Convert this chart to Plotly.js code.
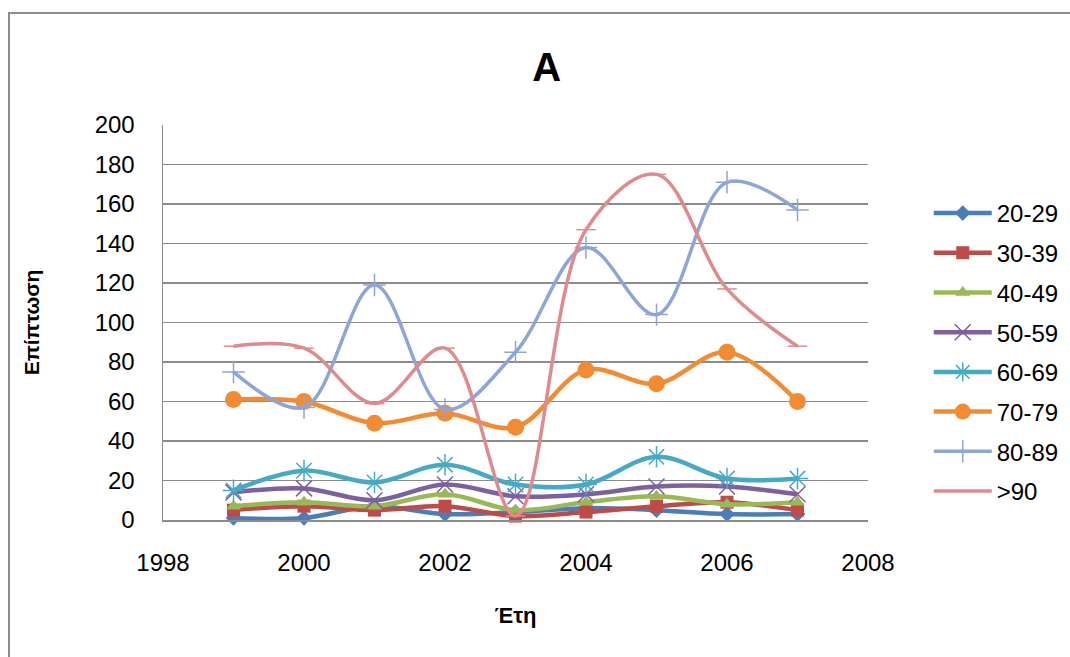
<!DOCTYPE html>
<html>
<head>
<meta charset="utf-8">
<script src="https://cdn.plot.ly/plotly-3.0.1.min.js"></script>
<style>
  html, body { margin: 0; padding: 0; background: #ffffff; }
  #frame { position: absolute; left: 8px; top: 12px; width: 1080px; height: 660px;
           border-left: 2px solid #8c8c8c; border-top: 2px solid #8c8c8c; }
  #chart { position: absolute; left: 0; top: 0; width: 1070px; height: 657px; }
</style>
</head>
<body>
<div id="frame"></div>
<div id="chart"></div>
<script>
const years = [1999, 2000, 2001, 2002, 2003, 2004, 2005, 2006, 2007];
const seriesNames = ["20-29", "30-39", "40-49", "50-59", "60-69", "70-79", "80-89", ">90"];
const s20_29 = [1, 1, 7, 3, 4, 6, 5, 3, 3];
const s30_39 = [5, 7, 5, 7, 2, 4, 7, 9, 5];
const s40_49 = [7, 9, 7, 13, 5, 9, 12, 8, 9];
const s50_59 = [14, 16, 10, 18, 12, 13, 17, 17, 13];
const s60_69 = [15, 25, 19, 28, 18, 18, 32, 21, 21];
const s70_79 = [61, 60, 49, 54, 47, 76, 69, 85, 60];
const s80_89 = [75, 57, 119, 56, 85, 138, 104, 171, 157];
const s90 = [88, 87, 59, 87, 2, 147, 175, 117, 88];

const allSeries = [s20_29, s30_39, s40_49, s50_59, s60_69, s70_79, s80_89, s90];
const colors = ["#4A7EBB", "#BE4B48", "#98B954", "#7D60A0", "#46AAC5", "#F38B32", "#8EA5D5", "#DE8B90"];
const symbols = ["diamond", "square", "triangle-up", "x-thin-open", "asterisk-open", "circle", "cross-thin-open", "line-ew-open"];
const msizes = [12, 13, 13, 16, 18, 17, 16, 14];
const lwidths = [4.5, 4.5, 4.5, 4.5, 4.5, 4.5, 3.5, 3.5];

const traces = allSeries.map((vals, i) => ({
  x: years,
  y: vals,
  name: seriesNames[i],
  legendgroup: "g" + i,
  type: "scatter",
  mode: "lines+markers",
  line: { color: colors[i], width: lwidths[i], shape: "spline", smoothing: 1 },
  marker: { symbol: symbols[i], size: msizes[i], color: colors[i],
            line: { color: colors[i], width: (i === 3 || i === 4 || i === 6 || i === 7) ? 1.5 : 0 } },
  cliponaxis: false
}));

const layout = {
  width: 1070, height: 657,
  paper_bgcolor: "rgba(0,0,0,0)",
  plot_bgcolor: "#ffffff",
  margin: { l: 163, r: 202, t: 125, b: 137 },
  font: { family: "Liberation Sans, Arial, sans-serif", size: 24, color: "#000000" },
  title: { text: "<b>A</b>", x: 0.511, xanchor: "center", y: 0.898, yanchor: "middle",
           font: { size: 40, family: "Liberation Sans Narrow, Liberation Sans, sans-serif", color: "#000" } },
  xaxis: {
    range: [1998, 2008], dtick: 2, tick0: 1998,
    showgrid: false, zeroline: false,
    showline: true, linecolor: "#8c8c8c", linewidth: 1.5,
    ticks: "", tickfont: { size: 24 }, ticklabelstandoff: 21,
    title: { text: "<b>Έτη</b>", font: { size: 22 }, standoff: 32 }
  },
  yaxis: {
    range: [0, 200], dtick: 20, tick0: 0,
    showgrid: true, gridcolor: "#8c8c8c", gridwidth: 1.5,
    zeroline: false, showline: true, linecolor: "#8c8c8c", linewidth: 1.5,
    ticks: "", tickfont: { size: 24 }, ticklabelstandoff: 22,
    title: { text: "<b>Επίπτωση</b>", font: { size: 21 }, standoff: 49 }
  },
  showlegend: true,
  legend: {
    xref: "container", yref: "container",
    x: 0.868, y: 1 - 191 / 657, xanchor: "left", yanchor: "top",
    traceorder: "grouped", tracegroupgap: 5.5,
    itemwidth: 58,
    font: { size: 24 },
    bgcolor: "rgba(0,0,0,0)"
  }
};

Plotly.newPlot("chart", traces, layout, { displayModeBar: false, staticPlot: true });
</script>
</body>
</html>
